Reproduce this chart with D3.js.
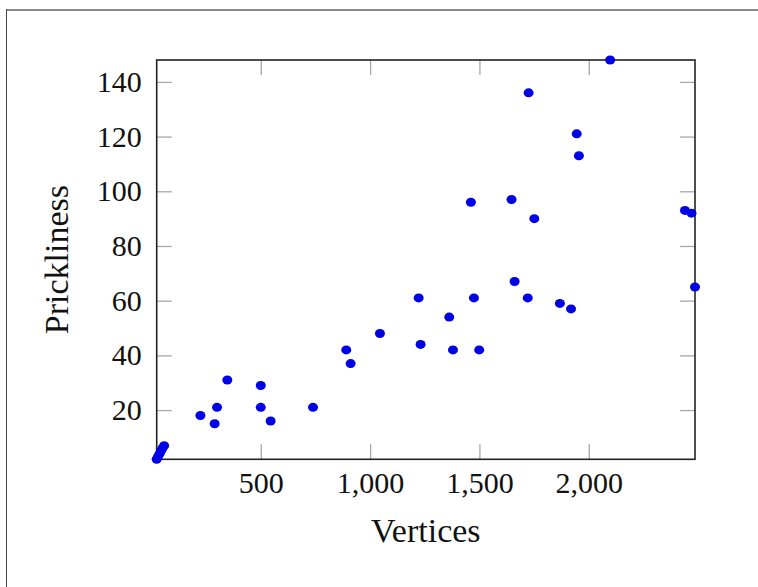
<!DOCTYPE html>
<html>
<head>
<meta charset="utf-8">
<script src="https://cdn.jsdelivr.net/npm/d3@7"></script>
<style>
  html, body { margin: 0; padding: 0; background: #fff; }
  svg { display: block; }
  .tick text { font-family: "Liberation Serif", "DejaVu Serif", serif; fill: #111; }
</style>
</head>
<body>
<svg id="chart" width="758" height="587"></svg>
<script>
// Graph size vs. prickliness
const vertices = [24, 30, 37, 43, 50, 58, 224, 289, 300, 347, 500, 500, 545, 739, 891, 911,
  1045, 1222, 1231, 1362, 1379, 1461, 1475, 1499, 1647, 1661, 1721, 1725, 1751, 1868,
  1919, 1945, 1955, 2098, 2440, 2470, 2486];
const prickliness = [2, 3, 4, 5, 6, 7, 18, 15, 21, 31, 29, 21, 16, 21, 42, 37,
  48, 61, 44, 54, 42, 96, 61, 42, 97, 67, 61, 136, 90, 59,
  57, 121, 113, 148, 93, 92, 65];
const xTicks = [500, 1000, 1500, 2000];
const yTicks = [20, 40, 60, 80, 100, 120, 140];
const xLabel = "Vertices";
const yLabel = "Prickliness";

const points = vertices.map((v, i) => ({ x: v, y: prickliness[i] }));

const svg = d3.select("#chart");
const W = 758, H = 587;
const plot = { left: 156.7, top: 60, right: 695, bottom: 459.3 };

// page frame
svg.append("line").attr("x1", 6.5).attr("x2", W).attr("y1", 10).attr("y2", 10)
  .attr("stroke", "#8a8a8a").attr("stroke-width", 2);
svg.append("line").attr("x1", 6.5).attr("x2", 6.5).attr("y1", 9).attr("y2", H)
  .attr("stroke", "#444").attr("stroke-width", 1);

const x = d3.scaleLinear().domain(d3.extent(vertices)).range([plot.left, plot.right]);
const y = d3.scaleLinear().domain(d3.extent(prickliness)).range([plot.bottom, plot.top]);

const tickLen = 15;
const tickColor = "#a8a8a8";

function styleAxis(g, showText) {
  g.select(".domain").remove();
  g.selectAll(".tick line").attr("stroke", tickColor).attr("stroke-width", 1.3);
  if (!showText) g.selectAll(".tick text").remove();
}

svg.append("g").attr("transform", `translate(0,${plot.bottom})`)
  .call(d3.axisBottom(x).tickValues(xTicks).tickSize(-tickLen).tickPadding(12)
    .tickFormat(d3.format(",")))
  .call(g => styleAxis(g, true))
  .call(g => g.selectAll(".tick text").attr("font-size", 30));

svg.append("g").attr("transform", `translate(0,${plot.top})`)
  .call(d3.axisTop(x).tickValues(xTicks).tickSize(-tickLen))
  .call(g => styleAxis(g, false));

svg.append("g").attr("transform", `translate(${plot.left},0)`)
  .call(d3.axisLeft(y).tickValues(yTicks).tickSize(-tickLen).tickPadding(15))
  .call(g => styleAxis(g, true))
  .call(g => g.selectAll(".tick text").attr("font-size", 30));

svg.append("g").attr("transform", `translate(${plot.right},0)`)
  .call(d3.axisRight(y).tickValues(yTicks).tickSize(-tickLen))
  .call(g => styleAxis(g, false));

// plot box
svg.append("rect")
  .attr("x", plot.left).attr("y", plot.top)
  .attr("width", plot.right - plot.left).attr("height", plot.bottom - plot.top)
  .attr("fill", "none").attr("stroke", "#222").attr("stroke-width", 1.6);

// markers
svg.append("g").selectAll("ellipse").data(points).join("ellipse")
  .attr("cx", d => x(d.x)).attr("cy", d => y(d.y))
  .attr("rx", 5).attr("ry", 4.5)
  .attr("fill", "#0000e6");

// axis titles
svg.append("text")
  .attr("x", (plot.left + plot.right) / 2).attr("y", 541.5)
  .attr("text-anchor", "middle")
  .attr("font-family", "Liberation Serif, DejaVu Serif, serif")
  .attr("font-size", 34).attr("fill", "#111")
  .text(xLabel);

svg.append("text")
  .attr("transform", `translate(68,${(plot.top + plot.bottom) / 2}) rotate(-90)`)
  .attr("text-anchor", "middle")
  .attr("font-family", "Liberation Serif, DejaVu Serif, serif")
  .attr("font-size", 34).attr("fill", "#111")
  .text(yLabel);
</script>
</body>
</html>
